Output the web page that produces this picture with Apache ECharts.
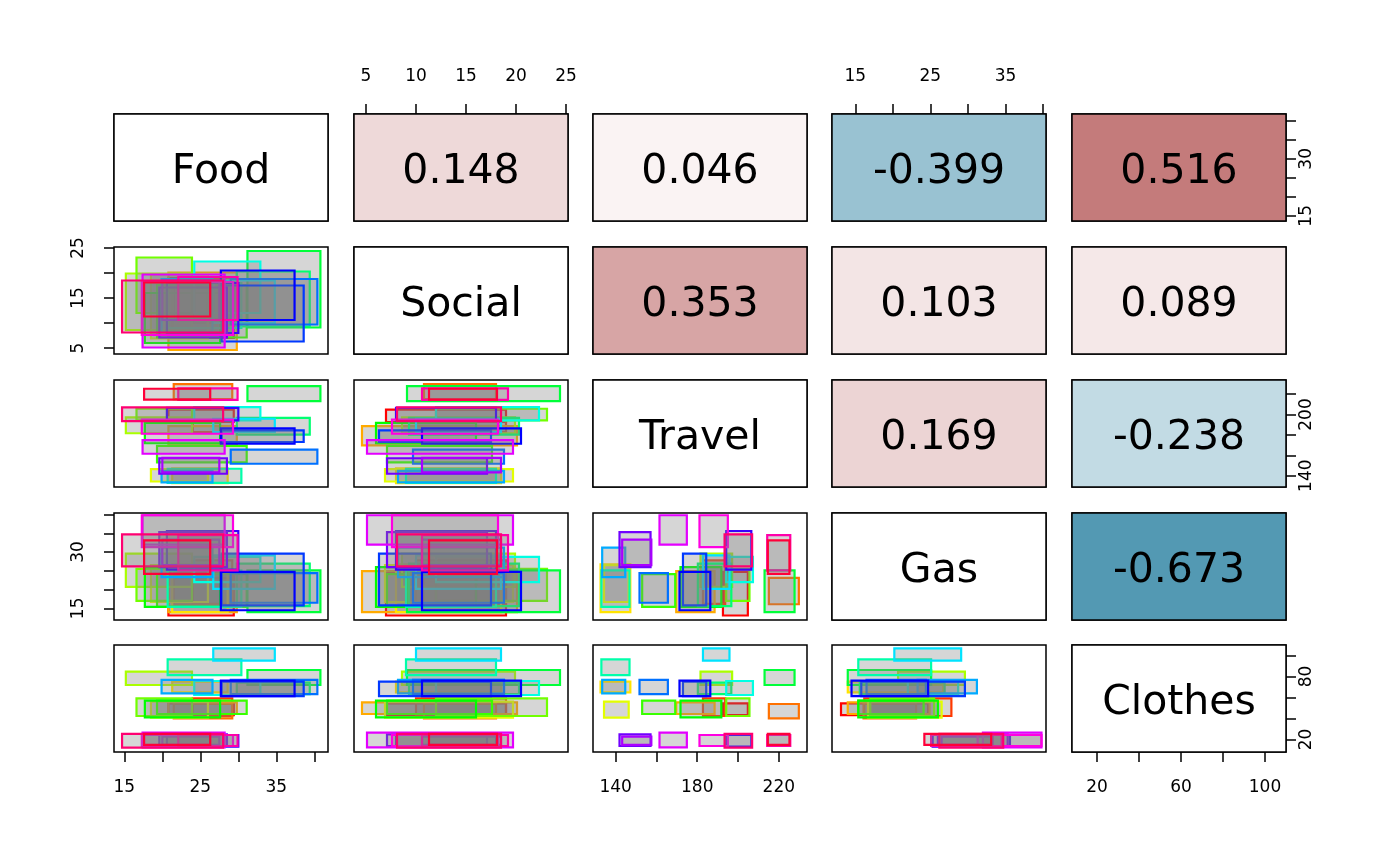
<!DOCTYPE html>
<html><head><meta charset="utf-8">
<script src="https://cdn.jsdelivr.net/npm/echarts@6/dist/echarts.min.js"></script>
<style>html,body{margin:0;padding:0;background:#fff}#c{width:1400px;height:866px}</style>
</head><body><div id="c"></div>
<script>
// ---- data (interval-valued observations, [low, high]) ----
const varNames = ['Food', 'Social', 'Travel', 'Gas', 'Clothes'];
const food = [[20.8,29.4],[24.0,29.2],[21.5,29.2],[20.8,29.8],[21.3,28.6],[18.5,26.0],[15.2,23.9],[16.6,23.9],[19.3,31.1],[17.7,27.6],[31.2,40.8],[29.8,39.4],[20.7,30.4],[24.2,32.9],[26.7,34.8],[19.9,26.6],[29.0,40.4],[27.8,38.6],[27.7,37.4],[20.6,30.0],[19.6,28.5],[20.0,27.5],[17.4,28.2],[17.3,29.3],[22.1,29.9],[14.7,28.0],[17.6,26.3]];
const social = [[7.0,19.0],[10.0,19.0],[10.8,18.0],[4.6,20.1],[8.0,18.5],[6.9,19.7],[8.6,19.9],[12.0,23.1],[7.1,17.6],[6.0,16.0],[9.1,24.4],[9.3,20.3],[9.0,18.0],[12.0,22.3],[10.0,18.5],[8.2,18.8],[9.7,18.8],[6.3,17.5],[10.6,20.5],[8.0,18.0],[7.1,17.1],[10.6,18.5],[5.1,19.7],[7.6,18.2],[10.6,19.2],[8.1,18.5],[11.3,18.1]];
const travel = [[192.6,204.8],[182.8,193.7],[215.1,229.8],[169.7,188.5],[132.6,147.2],[134.3,146.4],[181.6,197.1],[194.2,205.6],[153.0,169.2],[171.8,191.8],[213.0,227.7],[180.3,196.7],[133.0,146.8],[194.2,207.3],[182.8,195.8],[133.4,144.7],[151.7,165.6],[173.0,184.4],[171.3,186.4],[194.2,206.5],[141.9,157.1],[143.2,157.5],[161.5,174.9],[181.1,195.0],[214.3,225.6],[193.4,206.9],[214.6,225.2]];
const gas = [[13.1,24.7],[16.2,27.8],[16.1,23.1],[14.0,24.9],[14.0,26.7],[16.7,26.5],[20.7,29.6],[17.0,25.5],[15.4,24.1],[15.4,26.0],[14.0,25.1],[15.6,26.9],[15.4,25.1],[22.0,28.7],[20.2,29.1],[23.3,31.2],[16.5,24.4],[15.8,29.6],[14.5,24.7],[25.3,35.6],[26.0,35.3],[26.5,33.3],[32.0,39.8],[31.3,39.8],[25.1,34.5],[26.2,34.7],[24.2,33.1]];
const clothes = [[43.3,54.4],[42.4,59.2],[40.2,53.8],[44.3,55.4],[64.9,75.1],[40.8,56.0],[71.9,84.6],[42.4,59.2],[44.3,57.0],[41.1,57.0],[71.9,86.2],[63.3,74.1],[81.4,96.4],[62.4,75.7],[95.1,106.8],[64.0,76.7],[63.3,76.7],[61.4,75.1],[61.4,76.0],[13.2,24.3],[13.8,24.9],[14.8,22.7],[12.5,26.5],[13.8,24.3],[13.8,24.3],[12.2,25.3],[14.8,25.3]];
// correlations [row, col, r]
const corrPairs = [[0,1,0.148],[0,2,0.046],[0,3,-0.399],[0,4,0.516],[1,2,0.353],[1,3,0.103],[1,4,0.089],[2,3,0.169],[2,4,-0.238],[3,4,-0.673]];
// axis extents and ticks
const axisRange = [[13.64,41.8],[3.8,25.2],[128.9,233.8],[11.9,40.4],[8.1,110.0]];
const tickValues = [[15,20,25,30,35,40],[5,10,15,20,25],[140,160,180,200,220],[15,20,25,30,35,40],[20,40,60,80,100]];
const xLabelValues = [[15,25,35],[5,10,15,20,25],[140,180,220],[15,25,35],[20,60,100]];
const yLabelValues = [[15,30],[5,15,25],[140,200],[15,30],[20,80]];

// ---- layout / style ----
const vars = [food, social, travel, gas, clothes];
const nObs = food.length;
const colLeft = [114, 354, 593, 832, 1072];
const rowTop = [114, 247, 380, 513, 645];
const PW = 214, PH = 107;
const FONT = 'DejaVu Sans';

function rainbow(k, n) {
  const h = k / n * 6, i = Math.floor(h), f = h - i, q = 1 - f;
  const rgb = [[1,f,0],[q,1,0],[0,1,f],[0,q,1],[f,0,1],[1,0,q]][i % 6];
  return 'rgb(' + rgb.map(v => Math.round(v * 255)).join(',') + ')';
}
const obsColors = [];
for (let k = 0; k < nObs; k++) obsColors.push(rainbow(k, nObs));

function corrColor(r) {
  const end = r >= 0 ? [141, 0, 0] : [0, 103, 142];
  const t = Math.abs(r);
  return 'rgb(' + end.map(e => Math.round(255 + (e - 255) * t)).join(',') + ')';
}

const grids = [], xAxes = [], yAxes = [], series = [];
for (let i = 0; i < 5; i++) {
  for (let j = 0; j < 5; j++) {
    const g = i * 5 + j;
    grids.push({left: colLeft[j], top: rowTop[i], width: PW, height: PH, show: true,
      borderColor: '#000', borderWidth: 1.5, backgroundColor: 'transparent'});
    const xTop = (j === 1 || j === 3);
    const xShow = xTop ? i === 0 : i === 4;
    xAxes.push({type: 'value', gridIndex: g, min: axisRange[j][0], max: axisRange[j][1],
      position: xTop ? 'top' : 'bottom',
      axisLine: {show: false}, splitLine: {show: false},
      axisTick: {show: xShow, customValues: tickValues[j], length: 10, lineStyle: {color: '#000', width: 1.5}},
      axisLabel: {show: xShow, customValues: xLabelValues[j], color: '#000', fontSize: 17, fontFamily: FONT,
        margin: xTop ? 29 : 27}});
    const yLeft = (i === 1 || i === 3);
    const yShow = yLeft ? j === 0 : j === 4;
    yAxes.push({type: 'value', gridIndex: g, min: axisRange[i][0], max: axisRange[i][1],
      position: yLeft ? 'left' : 'right',
      axisLine: {show: false}, splitLine: {show: false},
      axisTick: {show: yShow, customValues: tickValues[i], length: 10, lineStyle: {color: '#000', width: 1.5}},
      axisLabel: {show: yShow, customValues: yLabelValues[i], color: '#000', fontSize: 17, fontFamily: FONT,
        rotate: 90, margin: yLeft ? 27 : 12}});

    if (i > j) {
      const data = [];
      for (let k = 0; k < nObs; k++) {
        data.push([vars[j][k][0], vars[j][k][1], vars[i][k][0], vars[i][k][1], k]);
      }
      series.push({type: 'custom', xAxisIndex: g, yAxisIndex: g, clip: true, silent: true,
        encode: {x: [0, 1], y: [2, 3]}, data: data,
        renderItem: function (params, api) {
          const p1 = api.coord([api.value(0), api.value(3)]);
          const p2 = api.coord([api.value(1), api.value(2)]);
          return {type: 'rect', shape: {x: p1[0], y: p1[1], width: p2[0] - p1[0], height: p2[1] - p1[1]},
            style: {fill: 'rgba(128,128,128,0.32)', stroke: obsColors[api.value(4)], lineWidth: 2.2}};
        }});
    } else {
      let text, fill;
      if (i === j) { text = varNames[i]; fill = '#ffffff'; }
      else {
        const r = corrPairs.find(c => c[0] === i && c[1] === j)[2];
        text = r.toFixed(3); fill = corrColor(r);
      }
      const mid = [(axisRange[j][0] + axisRange[j][1]) / 2, (axisRange[i][0] + axisRange[i][1]) / 2];
      series.push({type: 'custom', xAxisIndex: g, yAxisIndex: g, silent: true, data: [mid],
        renderItem: (function (txt, fl) {
          return function (params, api) {
            const cs = params.coordSys;
            return {type: 'group', children: [
              {type: 'rect', shape: {x: cs.x, y: cs.y, width: cs.width, height: cs.height},
                style: {fill: fl, stroke: '#000', lineWidth: 1.5}},
              {type: 'text', style: {text: txt, x: cs.x + cs.width / 2, y: cs.y + cs.height / 2 + 5,
                align: 'center', verticalAlign: 'middle', fontSize: 41, fontFamily: FONT, fill: '#000'}}
            ]};
          };
        })(text, fill)});
    }
  }
}

const chart = echarts.init(document.getElementById('c'), null, {renderer: 'canvas'});
chart.setOption({backgroundColor: '#fff', animation: false, grid: grids, xAxis: xAxes, yAxis: yAxes, series: series});
</script></body></html>
